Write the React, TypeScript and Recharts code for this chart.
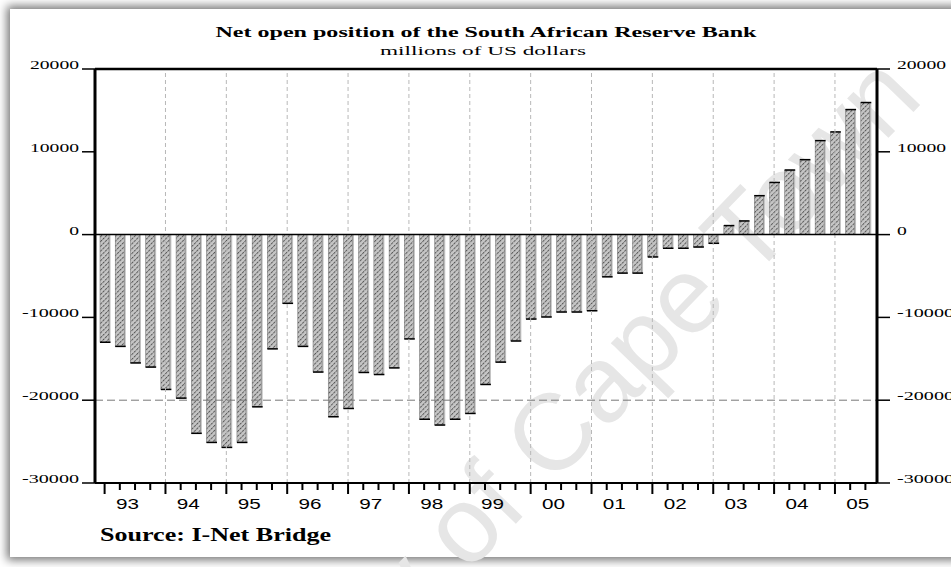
import React from 'react';
import { BarChart, Bar, XAxis, YAxis, ReferenceLine } from 'recharts';

const quarterLabels = [
  '92Q4',
  '93Q1', '93Q2', '93Q3', '93Q4',
  '94Q1', '94Q2', '94Q3', '94Q4',
  '95Q1', '95Q2', '95Q3', '95Q4',
  '96Q1', '96Q2', '96Q3', '96Q4',
  '97Q1', '97Q2', '97Q3', '97Q4',
  '98Q1', '98Q2', '98Q3', '98Q4',
  '99Q1', '99Q2', '99Q3', '99Q4',
  '00Q1', '00Q2', '00Q3', '00Q4',
  '01Q1', '01Q2', '01Q3', '01Q4',
  '02Q1', '02Q2', '02Q3', '02Q4',
  '03Q1', '03Q2', '03Q3', '03Q4',
  '04Q1', '04Q2', '04Q3', '04Q4',
  '05Q1', '05Q2',
];

const netOpenPosition = [
  -13000,
  -13500, -15500, -16000, -18700,
  -19750, -24000, -25100, -25700,
  -25100, -20800, -13800, -8300,
  -13500, -16600, -22000, -21000,
  -16650, -16900, -16100, -12600,
  -22300, -23000, -22300, -21600,
  -18100, -15400, -12850, -10200,
  -9950, -9350, -9350, -9200,
  -5100, -4650, -4650, -2700,
  -1650, -1650, -1500, -1050,
  1090, 1650, 4700, 6300,
  7800, 9050, 11350, 12400,
  15100, 15950,
];

const yearBoundaries = ['93Q4', '94Q4', '95Q4', '96Q4', '97Q4', '98Q4', '99Q4', '00Q4', '01Q4', '02Q4', '03Q4', '04Q4'];
const yTicks = [20000, 10000, 0, -10000, -20000, -30000];

const titleText = 'Net open position of the South African Reserve Bank';
const subtitleText = 'millions of US dollars';
const sourceText = 'Source: I-Net Bridge';
const watermarkText = 'University of Cape Town';

const data = quarterLabels.map((q, i) => ({ q, value: netOpenPosition[i] }));

const SERIF = '"Liberation Serif", "DejaVu Serif", serif';
const SANS = '"Liberation Sans", Arial, sans-serif';

const labelLen = (s: string) => s.replace('-', '').length * 9.8 + (s.startsWith('-') ? 8 : 0);

// Left axis tick renderer also mirrors the labels on the right-hand axis.
const BothTicks = (props: any) => {
  const { y, payload } = props;
  const s = String(payload.value);
  return (
    <g>
      <line x1={82} x2={95} y1={y} y2={y} stroke="#000" strokeWidth={1.5} />
      <text x={79} y={y} textAnchor="end" fontFamily={SERIF} fontSize={13.5} fill="#000"
        textLength={labelLen(s)} lengthAdjust="spacingAndGlyphs">{s}</text>
      <line x1={877} x2={890} y1={y} y2={y} stroke="#000" strokeWidth={1.5} />
      <text x={897} y={y} textAnchor="start" fontFamily={SERIF} fontSize={13.5} fill="#000"
        textLength={labelLen(s)} lengthAdjust="spacingAndGlyphs">{s}</text>
    </g>
  );
};

const XTick = (props: any) => {
  const { x, payload } = props;
  const label: string = String(payload.value);
  const yr = label.slice(0, 2);
  const q = label.slice(2);
  const axisY = 483;
  const long = q === 'Q4';
  return (
    <g>
      <line x1={x} x2={x} y1={axisY} y2={axisY + (long ? 11 : 7)} stroke="#000" strokeWidth={2} />
      {q === 'Q1' && (
        <text x={x + 7.6} y={axisY + 26} textAnchor="middle" fontFamily={SANS} fontSize={15.5} fill="#000"
          textLength={23} lengthAdjust="spacingAndGlyphs">{yr}</text>
      )}
    </g>
  );
};

const HatchBar = (props: any) => {
  const { x, y, width, height, payload } = props;
  if (x == null || y == null) return null;
  const top = Math.min(y, y + height);
  const h = Math.abs(height);
  const neg = payload && payload.value < 0;
  const endY = neg ? top + h : top;
  return (
    <g>
      <rect x={x + width} y={top} width={1.5} height={h} fill="#bdbdbd" />
      <rect x={x} y={top} width={width} height={h} fill="url(#hatchPattern)" stroke="#666" strokeWidth={0.5} />
      <line x1={x} x2={x + width + 1.5} y1={endY} y2={endY} stroke="#000" strokeWidth={1.5} />
    </g>
  );
};

export default function App() {
  return (
    <div style={{ position: 'absolute', left: 0, top: 0, width: 951, height: 567, overflow: 'hidden', background: '#fff' }}>
      <svg width={0} height={0} style={{ position: 'absolute' }}>
        <defs>
          <pattern id="hatchPattern" width={3.4} height={3.4} patternUnits="userSpaceOnUse" patternTransform="rotate(45)">
            <rect width={3.4} height={3.4} fill="#c6c6c6" />
            <line x1={0.5} y1={0} x2={0.5} y2={3.4} stroke="#555" strokeWidth={1} strokeDasharray="1.5 0.8" />
          </pattern>
        </defs>
      </svg>
      <div style={{
        position: 'absolute', left: 10, top: 9, width: 980, height: 548, background: '#fff',
        boxShadow: '0 0 9px 3px rgba(0,0,0,0.55)',
      }} />
      <svg width={951} height={567} style={{ position: 'absolute', left: 0, top: 0 }}>
        <text x={0} y={0} transform="translate(925 100) rotate(-46)" textAnchor="end" fontFamily={SANS}
          fontSize={108} fill="#e6e6e6">{watermarkText}</text>
      </svg>
      <div style={{ position: 'absolute', left: 0, top: 0 }}>
        <BarChart width={951} height={567} data={data}
          margin={{ top: 69, right: 14, bottom: 54, left: 35 }} barCategoryGap={0}>
          <XAxis dataKey="q" xAxisId="x" height={30} interval={0} padding={{ left: 2, right: 4 }}
            axisLine={{ stroke: '#000', strokeWidth: 2 }} tickLine={false} tick={<XTick />} />
          <YAxis yAxisId="left" width={60} domain={[-30000, 20000]} ticks={yTicks} interval={0}
            axisLine={{ stroke: '#000', strokeWidth: 3 }} tickLine={false} tick={<BothTicks />} />
          <YAxis yAxisId="right" orientation="right" width={60} domain={[-30000, 20000]} ticks={yTicks} interval={0}
            axisLine={{ stroke: '#000', strokeWidth: 3 }} tickLine={false} tick={false} />
          {yearBoundaries.map((b) => (
            <ReferenceLine key={b} x={b} xAxisId="x" yAxisId="left" stroke="#b8b8b8" strokeDasharray="4 3" strokeWidth={1} />
          ))}
          <ReferenceLine y={-20000} xAxisId="x" yAxisId="left" stroke="#777" strokeDasharray="8 4" strokeWidth={1} />
          <ReferenceLine y={20000} xAxisId="x" yAxisId="left" stroke="#000" strokeWidth={2.5} />
          <Bar dataKey="value" xAxisId="x" yAxisId="left" barSize={9} isAnimationActive={false} shape={<HatchBar />} />
          <ReferenceLine y={0} xAxisId="x" yAxisId="left" stroke="#000" strokeWidth={1.5} />
        </BarChart>
      </div>
      <svg width={951} height={567} style={{ position: 'absolute', left: 0, top: 0, pointerEvents: 'none' }}>
        <text x={486} y={37} textAnchor="middle" fontFamily={SERIF} fontWeight="bold" fontSize={15.5} fill="#000"
          textLength={541} lengthAdjust="spacingAndGlyphs">{titleText}</text>
        <text x={483} y={55} textAnchor="middle" fontFamily={SERIF} fontSize={13} fill="#000"
          textLength={206} lengthAdjust="spacingAndGlyphs">{subtitleText}</text>
        <text x={100} y={541} textAnchor="start" fontFamily={SERIF} fontWeight="bold" fontSize={18} fill="#000"
          textLength={231} lengthAdjust="spacingAndGlyphs">{sourceText}</text>
      </svg>
    </div>
  );
}
